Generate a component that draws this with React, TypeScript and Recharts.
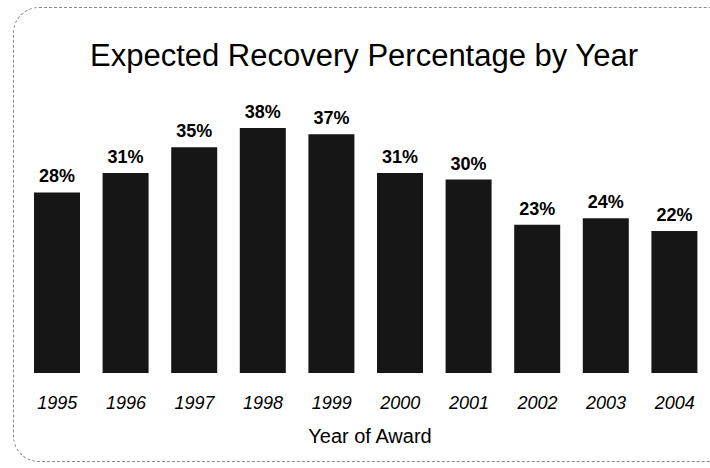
import React from "react";
import { BarChart, Bar, XAxis, YAxis, LabelList, Customized } from "recharts";

const years = ["1995", "1996", "1997", "1998", "1999", "2000", "2001", "2002", "2003", "2004"];
const recovery = [28, 31, 35, 38, 37, 31, 30, 23, 24, 22];
const chartTitle = "Expected Recovery Percentage by Year";
const xTitle = "Year of Award";

const data = years.map((y, i) => ({ year: y, value: recovery[i] }));

const FONT = "Arial, 'Liberation Sans', Helvetica, sans-serif";

const Tick = (props: any) => {
  const { x, y, payload } = props;
  return (
    <text x={x} y={y} dy={28} textAnchor="middle" fontFamily={FONT} fontSize={18} fontStyle="italic" fill="#000">
      {payload.value}
    </text>
  );
};

const Titles = () => {
  return (
    <g>
      <text x={364} y={66} textAnchor="middle" fontFamily={FONT} fontSize={31} fill="#000">
        {chartTitle}
      </text>
      <text x={370} y={443} textAnchor="middle" fontFamily={FONT} fontSize={20} fill="#000">
        {xTitle}
      </text>
    </g>
  );
};

export default function App() {
  return (
    <div style={{ position: "absolute", left: 0, top: 0, width: 710, height: 468, background: "#fff", overflow: "hidden" }}>
      <div
        style={{
          position: "absolute",
          left: 13,
          top: 7,
          width: 740,
          height: 455,
          border: "1px dashed #8a8a8a",
          borderRadius: 26,
          boxSizing: "border-box",
        }}
      />
      <div style={{ position: "absolute", left: 0, top: 0 }}>
        <BarChart width={710} height={468} data={data} margin={{ top: 115, right: 1, bottom: 0, left: 23 }} barSize={46}>
          <YAxis hide domain={[0, 40]} />
          <XAxis dataKey="year" height={95} axisLine={false} tickLine={false} tick={<Tick />} interval={0} />
          <Bar dataKey="value" fill="#161616" isAnimationActive={false}>
            <LabelList
              dataKey="value"
              position="top"
              offset={10}
              formatter={(v: any) => `${v}%`}
              style={{ fontFamily: FONT, fontSize: 18, fontWeight: "bold", fill: "#000" }}
            />
          </Bar>
          <Customized component={<Titles />} />
        </BarChart>
      </div>
    </div>
  );
}
